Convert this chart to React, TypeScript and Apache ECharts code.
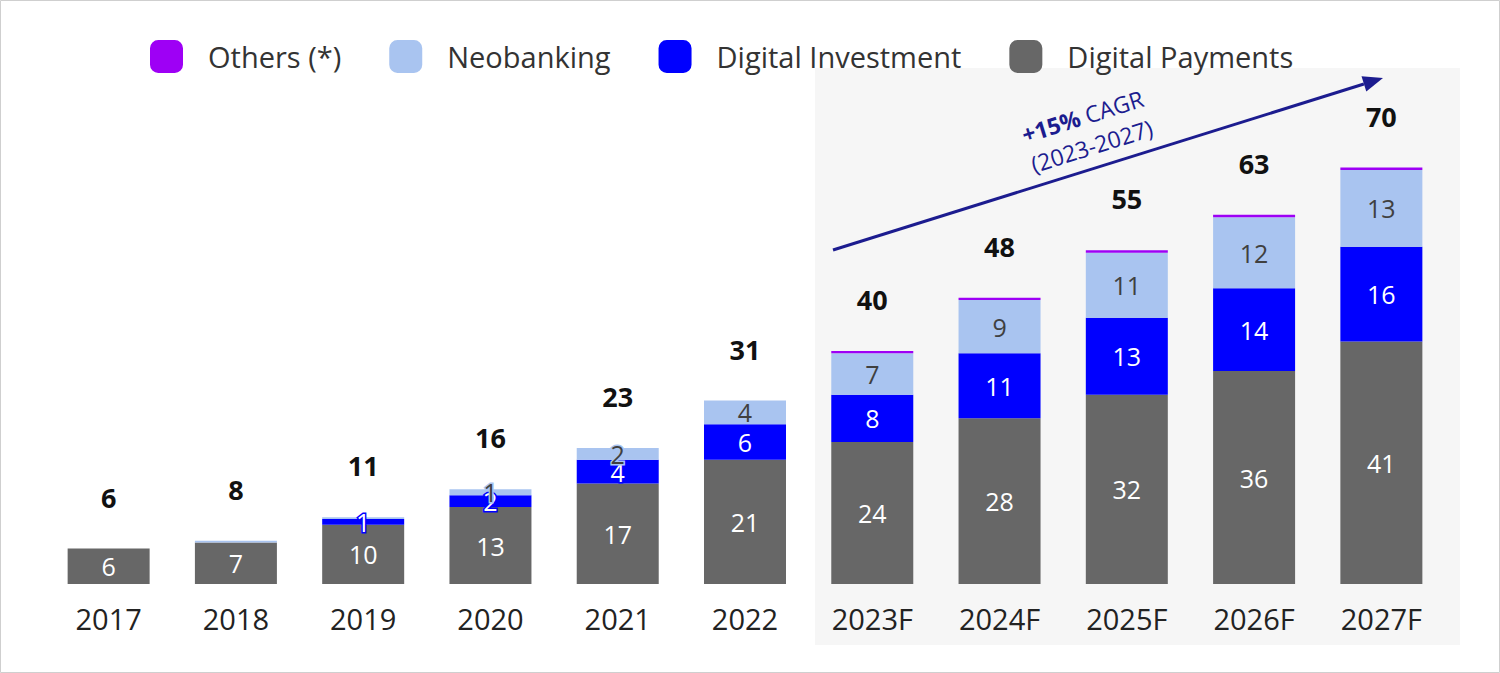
import React, { useEffect, useRef } from "react";
import * as echarts from "echarts";

const categories = ["2017", "2018", "2019", "2020", "2021", "2022", "2023F", "2024F", "2025F", "2026F", "2027F"];
const digitalPayments = [6, 7, 10, 13, 17, 21, 24, 28, 32, 36, 41];
const digitalInvestment = [0, 0, 1, 2, 4, 6, 8, 11, 13, 14, 16];
const neobanking = [0, 0.3, 0.3, 1, 2, 4, 7, 9, 11, 12, 13];
const others = [0, 0, 0, 0, 0, 0, 0.4, 0.4, 0.4, 0.4, 0.4];
const totals = [6, 8, 11, 16, 23, 31, 40, 48, 55, 63, 70];

const FONT = "'Open Sans', 'Noto Sans', sans-serif";
const C_PAY = "#676767";
const C_INV = "#0000ff";
const C_NEO = "#a9c4f0";
const C_OTH = "#9e00f5";
const NAVY = "#1c1c8f";

export default function App() {
  const ref = useRef<HTMLDivElement>(null);
  useEffect(() => {
    if (!ref.current) return;
    const chart = echarts.init(ref.current, null, { renderer: "svg" });

    const segLabel = (color: string, border: string) => ({
      show: true,
      position: "inside" as const,
      fontFamily: FONT,
      fontSize: 25,
      lineHeight: 18,
      color,
      textBorderColor: border,
      textBorderWidth: 3,
      formatter: (p: any) => (p.value >= 1 ? String(Math.round(p.value)) : ""),
    });

    // arrow geometry
    const x1 = 833, y1 = 250, x2 = 1383, y2 = 78;
    const dx = x2 - x1, dy = y2 - y1;
    const len = Math.sqrt(dx * dx + dy * dy);
    const ux = dx / len, uy = dy / len;
    const nx = -uy, ny = ux;
    const headL = 20, headW = 8;
    const bx = x2 - headL * ux, by = y2 - headL * uy;
    const angle = Math.atan2(-dy, dx);

    chart.setOption({
      animation: false,
      backgroundColor: "#ffffff",
      legend: {
        top: 35,
        left: 145,
        data: ["Others (*)", "Neobanking", "Digital Investment", "Digital Payments"],
        itemWidth: 33,
        itemHeight: 33,
        itemGap: 48,
        icon: "roundRect",
        textStyle: { fontFamily: FONT, fontSize: 29, color: "#333333", padding: [0, 0, 0, 20] },
      },
      grid: { left: 45, right: 55, top: 164, bottom: 89, containLabel: false },
      xAxis: {
        type: "category",
        data: categories,
        axisLine: { show: false },
        axisTick: { show: false },
        axisLabel: { fontFamily: FONT, fontSize: 29, color: "#222222", margin: 20 },
      },
      yAxis: { type: "value", min: 0, max: 71, show: false, splitLine: { show: false } },
      graphic: [
        { type: "rect", z: 0, silent: true, shape: { x: 815, y: 68, width: 645, height: 577 }, style: { fill: "#f6f6f6" } },
        { type: "rect", z: 0, silent: true, shape: { x: 0.5, y: 0.5, width: 1499, height: 672 }, style: { fill: "none", stroke: "#cfcfcf", lineWidth: 1 } },
        { type: "line", z: 100, silent: true, shape: { x1, y1, x2: bx, y2: by }, style: { stroke: NAVY, lineWidth: 3 } },
        {
          type: "polygon", z: 100, silent: true,
          shape: { points: [[x2, y2], [bx + headW * nx, by + headW * ny], [bx - headW * nx, by - headW * ny]] },
          style: { fill: NAVY },
        },
        {
          type: "text", z: 100, silent: true,
          x: 1087, y: 131, rotation: angle,
          style: {
            text: "{b|+15%} CAGR\n(2023-2027)",
            fill: NAVY,
            font: `23px ${FONT}`,
            align: "center",
            verticalAlign: "middle",
            lineHeight: 31,
            rich: {
              b: { fontWeight: "bold", fontSize: 23, fontFamily: FONT, fill: NAVY, lineHeight: 31 },
            },
          },
        },
      ],
      series: [
        {
          name: "Digital Payments", type: "bar", stack: "t", barWidth: 82, z: 2,
          itemStyle: { color: C_PAY }, data: digitalPayments,
          label: segLabel("#ffffff", C_PAY),
        },
        {
          name: "Digital Investment", type: "bar", stack: "t", barWidth: 82, z: 2,
          itemStyle: { color: C_INV }, data: digitalInvestment,
          label: segLabel("#ffffff", C_INV),
        },
        {
          name: "Neobanking", type: "bar", stack: "t", barWidth: 82, z: 2,
          itemStyle: { color: C_NEO }, data: neobanking,
          label: segLabel("#404040", C_NEO),
        },
        {
          name: "Others (*)", type: "bar", stack: "t", barWidth: 82, z: 2,
          itemStyle: { color: C_OTH }, data: others,
          label: {
            show: true, position: "top", distance: 38,
            fontFamily: FONT, fontSize: 27, fontWeight: "bold", color: "#111111",
            formatter: (p: any) => String(totals[p.dataIndex]),
          },
        },
      ],
    });
    return () => chart.dispose();
  }, []);
  return <div ref={ref} style={{ position: "fixed", left: 0, top: 0, width: 1500, height: 673 }} />;
}
